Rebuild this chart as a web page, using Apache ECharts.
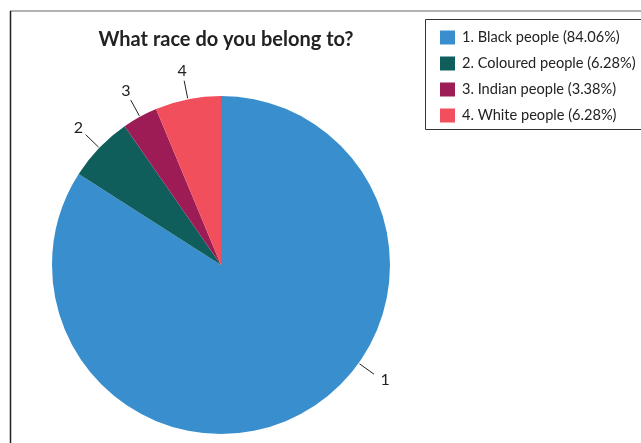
<!DOCTYPE html>
<html>
<head>
<meta charset="utf-8">
<script src="https://cdn.jsdelivr.net/npm/echarts@6/dist/echarts.min.js"></script>
<style>
  html, body { margin: 0; padding: 0; background: #fff; }
  #chart { width: 641px; height: 443px; }
</style>
</head>
<body>
<div id="chart"></div>
<script>
// data
var categories = ['Black people', 'Coloured people', 'Indian people', 'White people'];
var percentages = [84.06, 6.28, 3.38, 6.28];
var sliceLabels = ['1', '2', '3', '4'];
var colors = ['#398ECE', '#0F5E5C', '#9E1C55', '#F04F5B'];

var CX = 221, CY = 265, R = 169;
// label 1 sits off its slice middle in the original (angle clockwise from 12 o'clock)
var labelAngleOverride = { 0: 125.5 };

var total = percentages.reduce(function (a, b) { return a + b; }, 0);
function midAngle(i) {
  var before = 0;
  for (var k = 0; k < i; k++) before += percentages[k];
  return (before + percentages[i] / 2) / total * 360;
}

var chart = echarts.init(document.getElementById('chart'));

var pieData = categories.map(function (name, i) {
  return { name: name, value: percentages[i], itemStyle: { color: colors[i] } };
});

chart.setOption({
  animation: false,
  textStyle: { fontFamily: 'Lato' },
  title: {
    text: 'What race do you belong to?',
    left: 221,
    textAlign: 'center',
    top: 25,
    textStyle: { fontFamily: 'Lato', fontWeight: 'bold', fontSize: 20, color: '#222' }
  },
  legend: {
    orient: 'vertical',
    left: 435,
    top: 25,
    itemWidth: 15,
    itemHeight: 14,
    itemGap: 11,
    icon: 'rect',
    textStyle: { fontFamily: 'Lato', fontSize: 14.6, color: '#222', padding: [0, 0, 0, 2] },
    formatter: function (name) {
      var i = categories.indexOf(name);
      return (i + 1) + '. ' + name + ' (' + percentages[i].toFixed(2) + '%)';
    },
    data: categories
  },
  graphic: [
    // outer frame (top and left edges visible)
    { type: 'line', shape: { x1: 10, y1: 11, x2: 641, y2: 11 }, style: { stroke: '#999', lineWidth: 1.5 } },
    { type: 'line', shape: { x1: 10.5, y1: 11, x2: 10.5, y2: 443 }, style: { stroke: '#222', lineWidth: 1.5 } },
    // legend box
    { type: 'rect', shape: { x: 425.5, y: 19.5, width: 230, height: 110 }, style: { fill: 'none', stroke: '#333', lineWidth: 1 } }
  ],
  series: [{
    type: 'pie',
    center: [CX, CY],
    radius: R,
    startAngle: 90,
    clockwise: true,
    data: pieData,
    label: {
      show: true,
      position: 'outside',
      formatter: function (p) { return sliceLabels[p.dataIndex]; },
      fontFamily: 'Lato',
      fontSize: 16,
      color: '#222'
    },
    labelLine: {
      show: true,
      length: 18,
      length2: 0,
      lineStyle: { color: '#222', width: 1 }
    },
    labelLayout: function (params) {
      var i = params.dataIndex;
      var a = (labelAngleOverride[i] != null ? labelAngleOverride[i] : midAngle(i)) * Math.PI / 180;
      var dx = Math.sin(a), dy = -Math.cos(a);
      var r0 = R + 1, r1 = R + 19, rt = R + 29;
      return {
        x: CX + dx * rt + (i === 0 ? 3 : 0),
        y: CY + dy * rt,
        align: 'center',
        verticalAlign: 'middle',
        labelLinePoints: [
          [CX + dx * r0, CY + dy * r0],
          [CX + dx * r1, CY + dy * r1],
          [CX + dx * r1, CY + dy * r1]
        ]
      };
    },
    emphasis: { disabled: true }
  }]
});
</script>
</body>
</html>
